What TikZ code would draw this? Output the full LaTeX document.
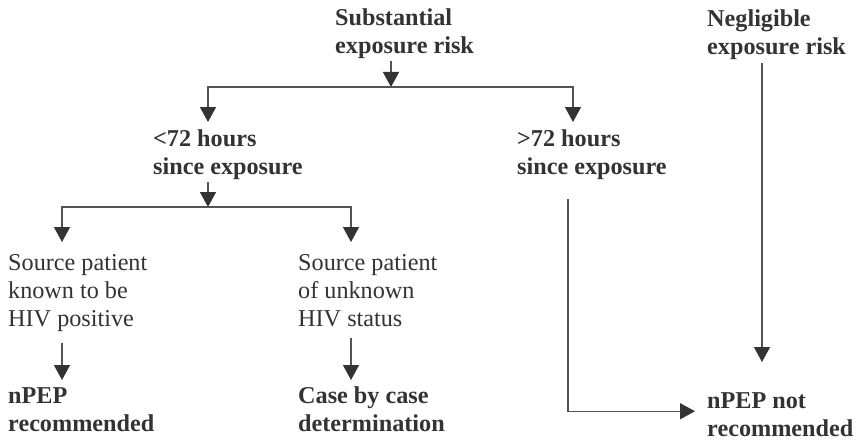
\documentclass[tikz,border=0pt]{standalone}
\usepackage{fontspec}
\setmainfont{Liberation Serif}
\usetikzlibrary{arrows.meta,calc}
\definecolor{txt}{gray}{0.2}
\definecolor{ln}{gray}{0.33}
\begin{document}
\begin{tikzpicture}[x=1pt,y=-1pt,
  lbl/.style={anchor=north west,inner sep=0pt,align=left,text=txt,font=\fontsize{24.2}{28}\selectfont},
  blbl/.style={lbl,font=\fontsize{24.2}{28}\selectfont\bfseries},
  conn/.style={draw=ln,line width=1.3pt,-{Triangle[length=15pt,width=16pt,color=txt]}}]
\fill[white] (0,0) rectangle (857,444);
\useasboundingbox (0,0) rectangle (857,444);
% nodes
\node[blbl] (sub) at (335,9) {Substantial\\exposure risk};
\node[blbl] (neg) at (707,10) {Negligible\\exposure risk};
\node[blbl] (lt) at (153,130) {<72 hours\\since exposure};
\node[blbl] (gt) at (517,130) {>72 hours\\since exposure};
\node[lbl] (kp) at (8,254) {Source patient\\known to be\\HIV positive};
\node[lbl] (uk) at (298,254) {Source patient\\of unknown\\HIV status};
\node[blbl] (rec) at (8,387) {nPEP\\recommended};
\node[blbl] (cbc) at (298,387) {Case by case\\determination};
\node[blbl] (not) at (707,392) {nPEP not\\recommended};
% connectors
\coordinate (b1) at (391,87);
\coordinate (b2) at (208,207);
\draw[conn] ($(sub.south west)+(56,2)$) -- (b1);
\draw[conn] (b1) -| ($(lt.north west)+(55,-8)$);
\draw[conn] (b1) -| ($(gt.north west)+(56,-8)$);
\draw[conn] ($(lt.south west)+(55,2)$) -- (b2);
\draw[conn] (b2) -| ($(kp.north west)+(54,-12)$);
\draw[conn] (b2) -| ($(uk.north west)+(53,-12)$);
\draw[conn] ($(kp.south west)+(54,11)$) -- ($(rec.north west)+(54,-7)$);
\draw[conn] ($(uk.south west)+(53,11)$) -- ($(cbc.north west)+(53,-7)$);
\draw[conn] ($(gt.south west)+(51,19)$) |- ($(not.west)+(-12,-3)$);
\draw[conn] ($(neg.south west)+(55,3)$) -- ($(not.north west)+(55,-30)$);
\end{tikzpicture}
\end{document}
